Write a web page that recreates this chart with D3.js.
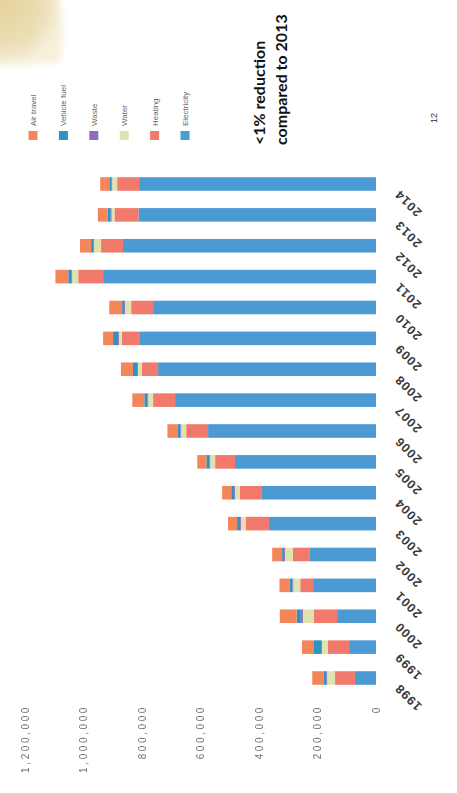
<!DOCTYPE html>
<html>
<head>
<meta charset="utf-8">
<script src="https://cdn.jsdelivr.net/npm/d3@7"></script>
<style>
  html, body { margin: 0; padding: 0; background: #fff; }
  svg { display: block; }
</style>
</head>
<body>
<svg id="chart" width="457" height="793"></svg>
<script>
// ---- data (bottom of picture = earliest year) ----
const years = ["1998","1999","2000","2001","2002","2003","2004","2005","2006","2007","2008","2009","2010","2011","2012","2013","2014"];
const seriesNames = ["Electricity","Heating","Water","Waste","Vehicle fuel","Air travel"];
const electricity = [72000, 92000, 133000, 215000, 226000, 366000, 390000, 482000, 574000, 687000, 745000, 807000, 762000, 933000, 865000, 812000, 810000];
const heating     = [68000, 72000, 79000, 44000, 58000, 79000, 75000, 68000, 75000, 75000, 55000, 62000, 75000, 85000, 75000, 82000, 75000];
const water       = [27000, 21000, 38000, 24000, 27000, 17000, 17000, 17000, 17000, 17000, 14000, 10000, 21000, 21000, 24000, 10000, 17000];
const waste       = [3000, 3000, 7000, 3000, 3000, 3000, 3000, 3000, 3000, 3000, 3000, 3000, 3000, 3000, 3000, 3000, 3000];
const vehicleFuel = [10000, 24000, 14000, 10000, 7000, 10000, 10000, 10000, 10000, 10000, 14000, 17000, 7000, 10000, 7000, 10000, 7000];
const airTravel   = [38000, 41000, 58000, 34000, 34000, 31000, 31000, 31000, 34000, 41000, 41000, 34000, 44000, 44000, 38000, 34000, 31000];
const valueTicks  = [0, 200000, 400000, 600000, 800000, 1000000, 1200000];
const noteLines   = ["<1% reduction", "compared to 2013"];
const pageNumber  = "12";

const colors = {
  "Electricity": "#4b9ad3",
  "Heating": "#f27a6c",
  "Water": "#e0e3b0",
  "Waste": "#8f6cbd",
  "Vehicle fuel": "#2f93c2",
  "Air travel": "#f5865a"
};

const seriesArrays = [electricity, heating, water, waste, vehicleFuel, airTravel];
const table = years.map((y, i) => {
  const row = { year: y };
  seriesNames.forEach((s, k) => row[s] = seriesArrays[k][i]);
  return row;
});

const svg = d3.select("#chart");

// decorative beige blob (top-left of the slide)
const defs = svg.append("defs");
const grad = defs.append("radialGradient").attr("id", "beige").attr("cx", "20%").attr("cy", "20%").attr("r", "80%");
grad.append("stop").attr("offset", "0%").attr("stop-color", "#e6d39a");
grad.append("stop").attr("offset", "70%").attr("stop-color", "#ecdfb8");
grad.append("stop").attr("offset", "100%").attr("stop-color", "#f6f0dc");
defs.append("filter").attr("id", "blur").append("feGaussianBlur").attr("stdDeviation", 3);
svg.append("path")
  .attr("d", "M-10,-10 L58,-10 Q66,25 60,62 Q30,66 -10,64 Z")
  .attr("fill", "url(#beige)")
  .attr("filter", "url(#blur)");

const g = svg.append("g").attr("transform", `translate(0,${793}) rotate(-90)`);

const x = d3.scaleBand().domain(years).range([99.56, 624.44]).paddingInner(0.56).paddingOuter(0.28);
const y = d3.scaleLinear().domain([0, 1200000]).range([376, 25]);

const stacked = d3.stack().keys(seriesNames)(table);

g.append("g").selectAll("g")
  .data(stacked)
  .join("g")
  .attr("fill", d => colors[d.key])
  .selectAll("rect")
  .data(d => d)
  .join("rect")
  .attr("x", d => x(d.data.year))
  .attr("width", x.bandwidth())
  .attr("y", d => y(d[1]))
  .attr("height", d => Math.max(0, y(d[0]) - y(d[1])));

// value axis (appears along the bottom after rotation)
const yAxis = d3.axisLeft(y).tickValues(valueTicks).tickSize(0).tickPadding(6)
  .tickFormat(d3.format(","));
const ya = g.append("g").attr("transform", "translate(94,0)").call(yAxis);
ya.select(".domain").remove();
ya.selectAll("text")
  .attr("font-family", "Liberation Sans, Arial, sans-serif")
  .attr("font-size", 10)
  .attr("letter-spacing", 2.6)
  .attr("fill", "#555")
  .attr("opacity", 0.85);

// category axis (years)
const xAxis = d3.axisBottom(x).tickSize(0).tickPadding(0);
const xa = g.append("g").attr("transform", "translate(0,380)").call(xAxis);
xa.select(".domain").remove();
xa.selectAll("text")
  .attr("font-family", "Liberation Sans, Arial, sans-serif")
  .attr("font-size", 12.5)
  .attr("font-weight", "bold")
  .attr("letter-spacing", 1)
  .attr("fill", "#3a3a3a")
  .attr("text-anchor", "end")
  .attr("dy", "0.9em")
  .attr("transform", "translate(-13,12) rotate(-45)");

// legend
const legend = g.append("g");
const legendOrder = ["Air travel", "Vehicle fuel", "Waste", "Water", "Heating", "Electricity"];
const legendPos = d3.scalePoint().domain(legendOrder).range([33, 185]);
const li = legend.selectAll("g").data(legendOrder).join("g")
  .attr("transform", d => `translate(653,${legendPos(d)})`);
li.append("rect").attr("x", 0).attr("y", -4.5).attr("width", 9).attr("height", 9).attr("fill", d => colors[d]);
li.append("text").attr("x", 14).attr("y", 3)
  .attr("font-family", "Liberation Sans, Arial, sans-serif")
  .attr("font-size", 8).attr("fill", "#666")
  .text(d => d);

// annotation
g.append("g").selectAll("text").data(noteLines).join("text")
  .attr("x", 648)
  .attr("y", (d, i) => 265 + i * 22)
  .attr("font-family", "Lato, 'Open Sans', sans-serif")
  .attr("font-weight", "bold")
  .attr("font-size", 16)
  .attr("fill", "#111")
  .text(d => d);

// page number
g.append("text").attr("x", 670).attr("y", 437)
  .attr("font-family", "Liberation Sans, Arial, sans-serif")
  .attr("font-size", 9).attr("fill", "#333")
  .text(pageNumber);
</script>
</body>
</html>
